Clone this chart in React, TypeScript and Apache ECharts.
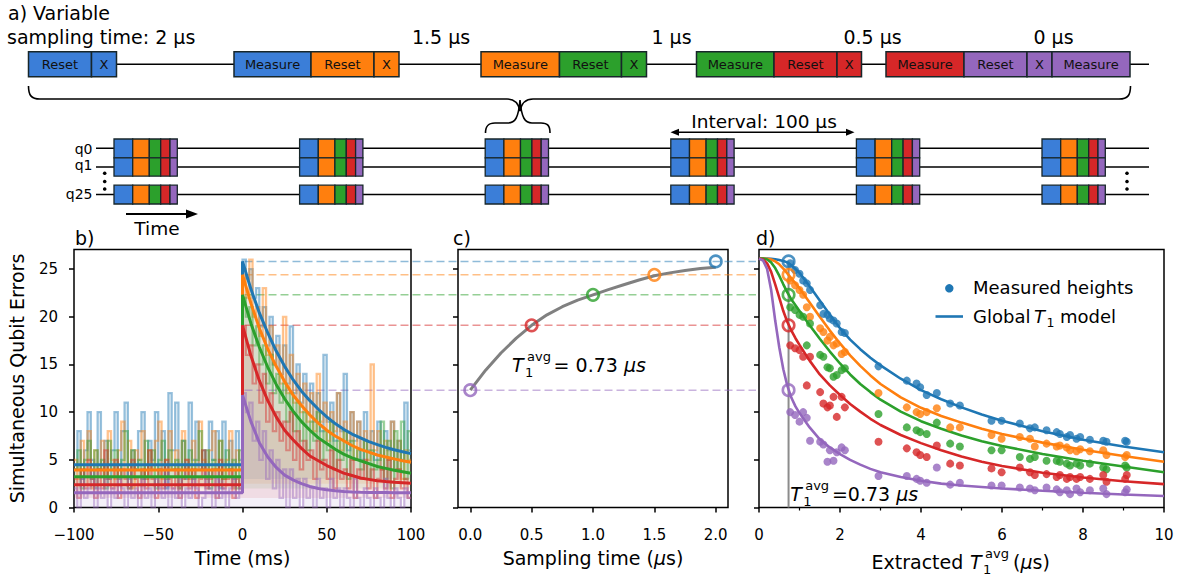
import React, { useEffect, useRef } from 'react';
import * as echarts from 'echarts';

const FONT = 'DejaVu Sans';
const INK = '#000000';

// ---------- colours ----------
const traceColors = ['#1f77b4', '#ff7f0e', '#2ca02c', '#d62728', '#9467bd'];
const boxColors: Record<string, string> = {
  blue: '#3b7ed8', orange: '#ff7f0e', green: '#2ca02c', red: '#d62728', purple: '#9467bd',
};
const GREY = '#808080';

// ---------- panel b data ----------
const noiseStartMs = -100;
const noiseBinMs = 2;
const noiseBlue = [
  4, 8, 3, 6, 10, 5, 2, 10, 4, 7, 3, 6, 10, 4, 8, 11, 3, 6, 4, 8, 10, 3, 7, 5, 10, 4, 8, 2, 12, 6, 11, 4, 7, 3, 11, 5, 9, 4, 6, 3, 9, 5, 8, 2, 9, 4, 7, 3, 8, 5,
  26, 24, 25, 22, 23, 19, 21, 17, 20, 15, 18, 14, 17, 13, 19, 12, 15, 11, 14, 10, 13, 9, 12, 8, 16, 9, 11, 7, 12, 8, 14, 6, 10, 7, 9, 5, 10, 6, 8, 5, 9, 4, 8, 6, 9, 4, 7, 5, 11, 6,
];
const noiseOrange = [
  5, 3, 7, 4, 8, 2, 6, 4, 7, 3, 8, 5, 3, 6, 9, 4, 7, 2, 6, 5, 8, 3, 6, 4, 7, 9, 3, 5, 8, 4, 6, 2, 8, 5, 3, 7, 4, 9, 5, 3, 6, 8, 4, 7, 3, 5, 8, 2, 6, 4,
  25, 22, 26, 20, 21, 18, 23, 16, 19, 15, 17, 13, 20, 12, 16, 11, 14, 10, 13, 9, 12, 8, 14, 9, 11, 7, 10, 8, 12, 6, 9, 7, 10, 5, 9, 6, 8, 5, 15, 6, 8, 4, 7, 5, 9, 4, 7, 3, 6, 5,
];
const noiseGreen = [
  4, 6, 2, 5, 7, 3, 6, 4, 5, 2, 7, 4, 6, 3, 5, 8, 2, 6, 4, 5, 3, 7, 4, 6, 2, 5, 7, 3, 6, 4, 5, 2, 7, 4, 6, 3, 5, 8, 4, 6, 2, 5, 4, 7, 3, 6, 4, 5, 2, 6,
  22, 20, 21, 17, 19, 15, 17, 13, 16, 12, 14, 11, 13, 9, 12, 8, 11, 7, 10, 6, 9, 7, 10, 5, 8, 6, 9, 4, 7, 5, 8, 3, 7, 5, 6, 4, 7, 3, 6, 4, 5, 9, 3, 7, 2, 8, 4, 9, 3, 8,
];
const noiseRed = [
  3, 1, 4, 2, 5, 3, 1, 4, 2, 6, 3, 2, 5, 1, 4, 3, 2, 5, 3, 1, 4, 2, 6, 3, 1, 4, 2, 5, 3, 2, 4, 1, 3, 5, 2, 4, 1, 3, 6, 2, 3, 4, 1, 5, 2, 3, 4, 1, 3, 2,
  19, 16, 17, 13, 15, 11, 14, 9, 12, 8, 10, 7, 9, 6, 10, 5, 8, 4, 7, 5, 6, 3, 7, 4, 5, 3, 6, 2, 5, 3, 4, 2, 5, 1, 4, 3, 5, 2, 4, 1, 3, 4, 2, 5, 1, 3, 4, 2, 3, 1,
];
const noisePurple = [
  2, 0, 3, 1, 2, 4, 0, 2, 1, 3, 0, 2, 1, 3, 2, 0, 4, 1, 2, 0, 3, 1, 2, 0, 3, 2, 1, 4, 0, 2, 1, 3, 0, 2, 1, 3, 2, 0, 1, 4, 2, 0, 3, 1, 2, 0, 2, 3, 1, 2,
  12, 10, 11, 7, 9, 5, 8, 3, 6, 2, 5, 1, 4, 0, 4, 1, 3, 0, 3, 1, 2, 0, 3, 1, 2, 0, 3, 1, 2, 0, 2, 1, 0, 3, 1, 0, 2, 1, 0, 2, 1, 0, 3, 1, 0, 2, 1, 0, 2, 1,
];
const noiseTraces = [noiseBlue, noiseOrange, noiseGreen, noiseRed, noisePurple];
// lower edge of each trace's shaded band
const noiseFloor = [3, 2.5, 2, 1, 0];

const baselineHeights = [4.48, 3.92, 3.22, 2.38, 1.54];
const decayTimesMs = [0, 5, 10, 15, 20, 25, 30, 35, 40, 45, 50, 55, 60, 65, 70, 75, 80, 85, 90, 95, 100];
const decayBlue = [25.8, 22.9, 20.4, 18.3, 16.4, 14.8, 13.4, 12.2, 11.2, 10.3, 9.5, 8.8, 8.2, 7.7, 7.3, 6.9, 6.6, 6.3, 6.05, 5.85, 5.65];
const decayOrange = [24.4, 21.4, 18.8, 16.6, 14.8, 13.2, 11.8, 10.7, 9.7, 8.85, 8.1, 7.5, 7.0, 6.5, 6.1, 5.8, 5.5, 5.3, 5.1, 4.9, 4.75];
const decayGreen = [22.3, 19.3, 16.8, 14.7, 12.9, 11.4, 10.1, 9.0, 8.1, 7.3, 6.7, 6.1, 5.6, 5.2, 4.9, 4.6, 4.3, 4.1, 3.9, 3.75, 3.6];
const decayRed = [19.1, 15.9, 13.3, 11.2, 9.5, 8.1, 7.1, 6.2, 5.4, 4.9, 4.4, 4.0, 3.6, 3.35, 3.1, 2.95, 2.8, 2.72, 2.65, 2.6, 2.55];
const decayPurple = [11.8, 9.0, 6.8, 5.3, 4.2, 3.4, 2.9, 2.5, 2.2, 2.0, 1.85, 1.75, 1.68, 1.63, 1.6, 1.58, 1.57, 1.56, 1.55, 1.55, 1.55];
const decayCurves = [decayBlue, decayOrange, decayGreen, decayRed, decayPurple];

// ---------- panel c data ----------
const samplingTimes = [2, 1.5, 1, 0.5, 0];
const peakHeights = [25.8, 24.4, 22.3, 19.1, 12.3];
const cCurveT = [0, 0.125, 0.25, 0.375, 0.5, 0.625, 0.75, 0.875, 1, 1.125, 1.25, 1.375, 1.5, 1.625, 1.75, 1.875, 2];
const cCurveH = [12.3, 14.4, 16.2, 17.75, 19.1, 20.2, 21.05, 21.75, 22.3, 22.85, 23.35, 23.85, 24.3, 24.6, 24.85, 25.05, 25.2];
const extractedT1 = 0.73;

// ---------- panel d data ----------
const dModelX = [0, 0.1, 0.2, 0.3, 0.4, 0.5, 0.6, 0.7, 0.8, 0.9, 1, 1.25, 1.5, 1.75, 2, 2.25, 2.5, 2.75, 3, 3.5, 4, 4.5, 5, 5.5, 6, 7, 8, 9, 10];
const dModelBlue = [26.1, 26.1, 26.1, 26.08, 26.03, 25.95, 25.85, 25.7, 25.4, 25.0, 24.6, 23.2, 21.7, 20.2, 18.8, 17.6, 16.6, 15.7, 14.9, 13.5, 12.3, 11.35, 10.5, 9.75, 9.1, 8.0, 7.1, 6.4, 5.8];
const dModelOrange = [26.1, 26.1, 26.08, 26.0, 25.8, 25.5, 25.05, 24.55, 24.0, 23.5, 23.0, 21.5, 20.0, 18.55, 17.2, 15.95, 14.85, 13.85, 12.95, 11.55, 10.45, 9.6, 8.9, 8.25, 7.7, 6.8, 6.05, 5.4, 4.8];
const dModelGreen = [26.1, 26.1, 26.0, 25.7, 25.1, 24.3, 23.4, 22.55, 21.8, 21.2, 20.6, 19.1, 17.7, 16.35, 15.1, 13.95, 12.95, 12.1, 11.3, 10.05, 9.05, 8.25, 7.55, 6.95, 6.45, 5.6, 4.9, 4.3, 3.7];
const dModelRed = [26.1, 26.0, 25.6, 24.7, 23.4, 22.0, 20.6, 19.45, 18.55, 17.75, 17.05, 15.4, 13.95, 12.8, 11.8, 10.85, 10.05, 9.3, 8.65, 7.6, 6.75, 6.0, 5.35, 4.8, 4.35, 3.65, 3.15, 2.75, 2.45];
const dModelPurple = [26.1, 25.9, 25.0, 22.8, 19.6, 16.8, 14.5, 12.75, 11.5, 10.6, 9.9, 8.4, 7.15, 6.3, 5.6, 5.0, 4.5, 4.05, 3.7, 3.2, 2.8, 2.5, 2.3, 2.15, 2.0, 1.75, 1.55, 1.37, 1.2];
const dModels = [dModelBlue, dModelOrange, dModelGreen, dModelRed, dModelPurple];

const dotT1 = [0.77, 0.89, 1.0, 1.09, 1.18, 1.26, 1.51, 1.59, 1.69, 1.75, 1.84, 1.92, 2.04, 2.12, 2.95, 3.65, 3.89, 3.98, 4.14, 4.39, 4.72, 4.96, 5.74, 5.99, 6.44, 6.69, 6.81, 7.1, 7.35, 7.43, 7.6, 7.68, 7.84, 7.93, 8.17, 8.5, 8.58, 9.04, 9.08];
const dotsBlue = [25.6, 24.9, 24.5, 23.8, 23.5, 22.8, 21.2, 20.3, 20.2, 19.8, 19.6, 19.3, 18.4, 18.3, 14.8, 13.3, 13.0, 12.6, 11.8, 12.0, 10.9, 10.7, 9.1, 9.1, 8.8, 8.3, 8.4, 8.1, 7.9, 7.7, 7.4, 7.6, 7.2, 7.4, 7.1, 7.0, 6.9, 7.0, 6.9];
const dotsOrange = [23.8, 23.3, 22.8, 22.3, 21.0, 20.0, 18.8, 18.4, 17.5, 17.9, 17.0, 17.2, 16.1, 16.3, 12.0, 10.5, 10.0, 9.8, 10.0, 10.4, 8.4, 8.4, 7.6, 7.2, 7.4, 7.2, 6.4, 6.7, 6.4, 6.5, 6.3, 6.0, 5.9, 6.1, 5.9, 6.0, 5.5, 5.3, 5.5];
const dotsGreen = [21.0, 20.7, 20.2, 20.0, 17.0, 19.3, 16.0, 15.8, 14.7, 14.6, 13.7, 13.9, 14.4, 14.6, 9.8, 8.4, 8.1, 7.9, 7.7, 8.9, 6.7, 6.4, 6.0, 6.0, 5.3, 5.1, 5.3, 4.9, 4.9, 4.8, 4.6, 4.4, 4.6, 4.4, 4.6, 4.2, 4.0, 4.4, 4.2];
const dotsRed = [17.0, 16.7, 16.5, 15.8, 12.8, 15.8, 12.1, 10.9, 10.5, 10.7, 11.6, 9.5, 11.6, 10.5, 6.9, 6.2, 5.8, 5.5, 5.3, 6.5, 4.6, 4.4, 4.1, 3.7, 4.2, 3.7, 3.4, 3.5, 3.2, 3.4, 3.0, 3.2, 3.0, 3.2, 3.0, 3.4, 2.7, 3.0, 3.4];
const dotsPurple = [10.0, 9.7, 9.0, 10.0, 9.4, 7.0, 6.9, 6.6, 4.8, 6.0, 4.9, 5.8, 6.3, 6.0, 3.3, 3.3, 3.0, 2.8, 2.6, 4.2, 2.4, 2.6, 2.3, 2.3, 2.1, 2.0, 1.8, 2.1, 1.9, 1.6, 1.8, 1.4, 2.0, 1.6, 1.8, 2.0, 1.4, 1.6, 1.9];
const dDots = [dotsBlue, dotsOrange, dotsGreen, dotsRed, dotsPurple];

// ---------- axis ticks ----------
const yTicks = [0, 5, 10, 15, 20, 25];
const cTicks = [0, 0.5, 1, 1.5, 2];
const Y_MAX = 27.05;

// ---------- schematic (panel a) ----------
const seqLabels = ['Reset', 'X', 'Measure', 'Reset', 'X', 'Measure', 'Reset', 'X', 'Measure', 'Reset', 'X', 'Measure', 'Reset', 'X', 'Measure'];
const seqColors = ['blue', 'blue', 'blue', 'orange', 'orange', 'orange', 'green', 'green', 'green', 'red', 'red', 'red', 'purple', 'purple', 'purple'];
const seqLeft = [28.5, 91.5, 234, 311, 374, 481, 559.5, 621.5, 696.5, 774, 837, 886, 964, 1027, 1052];
const seqRight = [91.5, 116.5, 311, 374, 399, 559.5, 621.5, 646.5, 774, 837, 861.5, 964, 1027, 1052, 1130];
const samplingLabels = ['1.5 μs', '1 μs', '0.5 μs', '0 μs'];
const samplingLabelX = [441, 671.5, 872.5, 1053.5];
const cellColors = ['blue', 'orange', 'green', 'red', 'purple'];
const cellWidths = [18.7, 16.6, 11.4, 9.3, 7.3];
const qubitNames = ['q0', 'q1', 'q25'];

echarts.graphic.registerShape(
  'braceBig',
  echarts.graphic.extendPath(
    'M28.5,86 C28.5,95 31,99 40,99 L507,99 C515,99 518.5,103 520,111 C521.5,103 525,99 533,99 L1119,99 C1128,99 1130.5,95 1130.5,86',
    {}
  )
);
echarts.graphic.registerShape(
  'braceSmall',
  echarts.graphic.extendPath(
    'M485.5,133 C485.5,126 488,123 495,123 L508,123 C515,123 518.5,118 520,100 C521.5,118 525,123 532,123 L541,123 C548,123 550,126 550,133',
    {}
  )
);

function txt(x: number, y: number, text: string, size: number, align = 'left', extra: any = {}) {
  return {
    type: 'text', x, y, silent: true, z: 10,
    style: { text, fontFamily: FONT, fontSize: size, fill: INK, align, verticalAlign: 'middle', ...extra },
  };
}

function schematicElements() {
  const els: any[] = [];
  els.push(txt(8, 13, 'a) Variable', 19));
  els.push(txt(7, 37, 'sampling time: 2 μs', 19));
  samplingLabels.forEach((s, i) => els.push(txt(samplingLabelX[i], 37, s, 19, 'center')));
  els.push({ type: 'line', silent: true, shape: { x1: 116, y1: 64.2, x2: 1149, y2: 64.2 }, style: { stroke: INK, lineWidth: 1.5 } });
  seqLabels.forEach((lab, i) => {
    els.push({
      type: 'rect', silent: true, z: 5,
      shape: { x: seqLeft[i], y: 51.7, width: seqRight[i] - seqLeft[i], height: 25 },
      style: { fill: boxColors[seqColors[i]], stroke: '#17262a', lineWidth: 1.5 },
    });
    els.push(txt((seqLeft[i] + seqRight[i]) / 2, 64.5, lab, 13, 'center', { fill: '#111' }));
  });
  els.push({ type: 'braceBig', x: 0, y: 0, silent: true, style: { stroke: INK, fill: 'none', lineWidth: 1.6 } });
  els.push({ type: 'braceSmall', x: 0, y: 0, silent: true, style: { stroke: INK, fill: 'none', lineWidth: 1.6 } });
  const lineY = [148.3, 166.9, 194.6];
  lineY.forEach((y) => els.push({ type: 'line', silent: true, shape: { x1: 96, y1: y, x2: 1149, y2: y }, style: { stroke: INK, lineWidth: 1.5 } }));
  const labelY = [148.8, 164.5, 194.2];
  qubitNames.forEach((q, i) => els.push(txt(92.5, labelY[i], q, 14, 'right')));
  const rows = [[139, 157.8], [157.8, 176.2], [185.2, 204]];
  for (let k = 0; k < 6; k++) {
    const x0 = 114 + k * 185.6;
    rows.forEach(([y0, y1]) => {
      let x = x0;
      cellWidths.forEach((w, j) => {
        els.push({
          type: 'rect', silent: true, z: 5,
          shape: { x, y: y0, width: w, height: y1 - y0 },
          style: { fill: boxColors[cellColors[j]], stroke: '#17262a', lineWidth: 1.3 },
        });
        x += w;
      });
    });
  }
  [173.3, 181.5, 189].forEach((y) => {
    els.push({ type: 'circle', silent: true, shape: { cx: 104.7, cy: y, r: 1.8 }, style: { fill: INK } });
    els.push({ type: 'circle', silent: true, shape: { cx: 1127, cy: y, r: 1.8 }, style: { fill: INK } });
  });
  els.push(txt(764, 121.5, 'Interval: 100 μs', 18.5, 'center'));
  els.push({ type: 'line', silent: true, shape: { x1: 675, y1: 132.3, x2: 850, y2: 132.3 }, style: { stroke: INK, lineWidth: 1.5 } });
  els.push({ type: 'polygon', silent: true, shape: { points: [[670.5, 132.3], [679, 128.8], [679, 135.8]] }, style: { fill: INK } });
  els.push({ type: 'polygon', silent: true, shape: { points: [[854.5, 132.3], [846, 128.8], [846, 135.8]] }, style: { fill: INK } });
  els.push({ type: 'line', silent: true, shape: { x1: 126, y1: 214, x2: 188, y2: 214 }, style: { stroke: INK, lineWidth: 2 } });
  els.push({ type: 'polygon', silent: true, shape: { points: [[198, 214], [186, 209.5], [186, 218.5]] }, style: { fill: INK } });
  els.push(txt(157, 228.5, 'Time', 18.5, 'center'));
  els.push(txt(75, 238, 'b)', 19));
  els.push(txt(453, 238, 'c)', 19));
  els.push(txt(756, 238, 'd)', 19));
  return els;
}

function t1Label(x: number, y: number, suffix: string, suffixDx: number) {
  const base = { fontFamily: FONT, fill: INK, align: 'left', verticalAlign: 'middle' };
  return [
    { type: 'text', x, y, silent: true, z: 10, style: { ...base, text: 'T', fontSize: 19, fontStyle: 'italic' } },
    { type: 'text', x: x + 15, y: y - 8.5, silent: true, z: 10, style: { ...base, text: 'avg', fontSize: 13 } },
    { type: 'text', x: x + 13, y: y + 7.5, silent: true, z: 10, style: { ...base, text: '1', fontSize: 13 } },
    {
      type: 'text', x: x + suffixDx, y, silent: true, z: 10,
      style: { ...base, text: suffix, fontSize: 19, rich: { i: { fontFamily: FONT, fontSize: 19, fontStyle: 'italic', fill: INK } } },
    },
  ];
}

function annotationElements(chart: any) {
  const els: any[] = [];
  peakHeights.forEach((h, i) => {
    const p0 = chart.convertToPixel({ gridIndex: 0 }, [0, h]);
    const p1 = chart.convertToPixel({ gridIndex: 2 }, [0, h]);
    els.push({
      type: 'line', silent: true, z: 1,
      shape: { x1: p0[0] + 2, y1: p0[1], x2: p1[0] - 3, y2: p1[1] },
      style: { stroke: traceColors[i], lineWidth: 1.5, lineDash: [8, 4], opacity: 0.5 },
    });
  });
  const pc = chart.convertToPixel({ gridIndex: 1 }, [0.34, 14.9]);
  els.push(...t1Label(pc[0], pc[1], '= 0.73 {i|μs}', 41.6));
  const pd = chart.convertToPixel({ gridIndex: 2 }, [0.77, 1.4]);
  els.push(...t1Label(pd[0], pd[1], '=0.73 {i|μs}', 41.7));
  els.push(txt(871.5, 561.5, 'Extracted', 19));
  els.push({ type: 'text', x: 970, y: 561.5, silent: true, style: { text: 'T', fontFamily: FONT, fontSize: 19, fontStyle: 'italic', fill: INK, align: 'left', verticalAlign: 'middle' } });
  els.push(txt(985, 553, 'avg', 13));
  els.push(txt(983, 569, '1', 13));
  els.push(txt(1013, 561.5, '({i|μ}s)', 19, 'left', { rich: { i: { fontFamily: FONT, fontSize: 19, fontStyle: 'italic', fill: INK } } }));
  els.push({ type: 'circle', silent: true, z: 10, shape: { cx: 949.3, cy: 288.3, r: 4.2 }, style: { fill: traceColors[0] } });
  els.push(txt(973, 287.5, 'Measured heights', 18));
  els.push({ type: 'line', silent: true, z: 10, shape: { x1: 935.5, y1: 316.5, x2: 963, y2: 316.5 }, style: { stroke: traceColors[0], lineWidth: 2.6 } });
  els.push(txt(973, 316, 'Global', 18));
  els.push({ type: 'text', x: 1034, y: 316, silent: true, style: { text: 'T', fontFamily: FONT, fontSize: 18, fontStyle: 'italic', fill: INK, align: 'left', verticalAlign: 'middle' } });
  els.push(txt(1046.5, 322, '1', 12.5));
  els.push(txt(1060, 316, 'model', 18));
  return els;
}

function buildOption() {
  const tickStyle = { length: 5, lineStyle: { color: INK, width: 1.5 } };
  const labelStyle = { fontFamily: FONT, fontSize: 15, color: INK };
  const nameStyle = { fontFamily: FONT, fontSize: 19, color: INK };
  const hiddenLine = { show: false, onZero: false };
  const grids = [
    { left: 74, top: 249.5, width: 337, height: 258 },
    { left: 458, top: 249.5, width: 270, height: 258 },
    { left: 759, top: 249.5, width: 405, height: 258 },
  ].map((g) => ({ ...g, show: true, borderColor: INK, borderWidth: 1.5, backgroundColor: 'transparent', containLabel: false }));

  const yAxes = [0, 1, 2].map((gi) => ({
    type: 'value', gridIndex: gi, min: 0, max: Y_MAX, position: 'left',
    axisLine: hiddenLine, splitLine: { show: false },
    axisTick: { show: true, ...tickStyle, customValues: yTicks },
    axisLabel: { show: gi === 0, ...labelStyle, margin: 16, customValues: yTicks },
    name: gi === 0 ? 'Simultaneous Qubit Errors' : '',
    nameLocation: 'middle', nameRotate: 90, nameGap: 48, nameTextStyle: nameStyle,
  }));

  const xAxes = [
    {
      type: 'value', gridIndex: 0, min: -100, max: 100, interval: 50, position: 'bottom',
      axisLine: hiddenLine, splitLine: { show: false }, axisTick: { show: true, ...tickStyle },
      axisLabel: { ...labelStyle, margin: 20, formatter: (v: number) => (v < 0 ? '\u2212' + Math.abs(v) : String(v)) },
      name: 'Time (ms)', nameLocation: 'middle', nameGap: 41, nameTextStyle: nameStyle,
    },
    {
      type: 'value', gridIndex: 1, min: -0.1, max: 2.1, position: 'bottom',
      axisLine: hiddenLine, splitLine: { show: false },
      axisTick: { show: true, ...tickStyle, customValues: cTicks },
      axisLabel: { ...labelStyle, margin: 20, customValues: cTicks, formatter: (v: number) => v.toFixed(1) },
      name: 'Sampling time ({i|μ}s)', nameLocation: 'middle', nameGap: 41,
      nameTextStyle: { ...nameStyle, rich: { i: { fontFamily: FONT, fontSize: 19, fontStyle: 'italic', color: INK } } },
    },
    {
      type: 'value', gridIndex: 2, min: 0, max: 10, interval: 2, position: 'bottom',
      axisLine: hiddenLine, splitLine: { show: false }, minorSplitLine: { show: false },
      axisTick: { show: true, ...tickStyle },
      minorTick: { show: true, splitNumber: 2, length: 3, lineStyle: { color: INK, width: 1.2 } },
      axisLabel: { ...labelStyle, margin: 20 },
      name: '',
    },
  ];

  const series: any[] = [];
  noiseTraces.forEach((vals, i) => {
    const data = vals.map((v, j) => [noiseStartMs + j * noiseBinMs, v]);
    data.push([100, vals[vals.length - 1]]);
    series.push({
      type: 'line', xAxisIndex: 0, yAxisIndex: 0, step: 'end', symbol: 'none', silent: true, z: 1,
      data,
      lineStyle: { color: traceColors[i], width: 2.2, opacity: 0.45, join: 'miter' },
      areaStyle: { color: traceColors[i], opacity: 0.1, origin: noiseFloor[i] },
    });
  });
  decayCurves.forEach((curve, i) => {
    series.push({
      type: 'line', xAxisIndex: 0, yAxisIndex: 0, symbol: 'none', silent: true, z: 3,
      data: [[-100, baselineHeights[i]], [0, baselineHeights[i]], [0, curve[0]]],
      lineStyle: { color: traceColors[i], width: 3 },
    });
    series.push({
      type: 'line', xAxisIndex: 0, yAxisIndex: 0, symbol: 'none', silent: true, z: 3,
      data: decayTimesMs.map((t, j) => [t, curve[j]]),
      lineStyle: { color: traceColors[i], width: 3 },
    });
  });
  series.push({
    type: 'line', xAxisIndex: 1, yAxisIndex: 1, symbol: 'none', silent: true, z: 3,
    data: cCurveT.map((t, j) => [t, cCurveH[j]]),
    lineStyle: { color: GREY, width: 3 },
  });
  series.push({
    type: 'scatter', xAxisIndex: 1, yAxisIndex: 1, symbol: 'circle', symbolSize: 11.5, silent: true, z: 4,
    data: samplingTimes.map((t, i) => ({
      value: [t, peakHeights[i]],
      itemStyle: { color: 'rgba(255,255,255,0)', borderColor: traceColors[i], borderWidth: 2.6 },
    })),
  });
  series.push({
    type: 'line', xAxisIndex: 2, yAxisIndex: 2, symbol: 'none', silent: true, z: 2,
    data: [[extractedT1, 0], [extractedT1, peakHeights[0]]],
    lineStyle: { color: '#8c8c8c', width: 2 },
  });
  dModels.forEach((ys, i) => {
    series.push({
      type: 'line', xAxisIndex: 2, yAxisIndex: 2, symbol: 'none', silent: true, z: 3,
      data: dModelX.map((x, j) => [x, ys[j]]),
      lineStyle: { color: traceColors[i], width: 2.6 },
    });
  });
  dDots.forEach((ys, i) => {
    series.push({
      type: 'scatter', xAxisIndex: 2, yAxisIndex: 2, symbol: 'circle', symbolSize: 8, silent: true, z: 4,
      data: dotT1.map((x, j) => [x, ys[j]]),
      itemStyle: { color: traceColors[i] },
    });
  });
  series.push({
    type: 'scatter', xAxisIndex: 2, yAxisIndex: 2, symbol: 'circle', symbolSize: 11.5, silent: true, z: 5,
    data: peakHeights.map((h, i) => ({
      value: [extractedT1, h],
      itemStyle: { color: 'rgba(255,255,255,0)', borderColor: traceColors[i], borderWidth: 2.6 },
    })),
  });

  return {
    animation: false,
    backgroundColor: '#ffffff',
    textStyle: { fontFamily: FONT },
    grid: grids,
    xAxis: xAxes,
    yAxis: yAxes,
    series,
  };
}

export default function App() {
  const ref = useRef<HTMLDivElement>(null);
  useEffect(() => {
    if (!ref.current) return;
    const chart = echarts.init(ref.current, null, { renderer: 'svg' });
    chart.setOption(buildOption() as any);
    chart.setOption({ graphic: { elements: [...schematicElements(), ...annotationElements(chart)] } } as any);
    return () => chart.dispose();
  }, []);
  return (
    <div
      ref={ref}
      style={{ position: 'fixed', left: 0, top: 0, width: 1184, height: 577, background: '#ffffff' }}
    />
  );
}
